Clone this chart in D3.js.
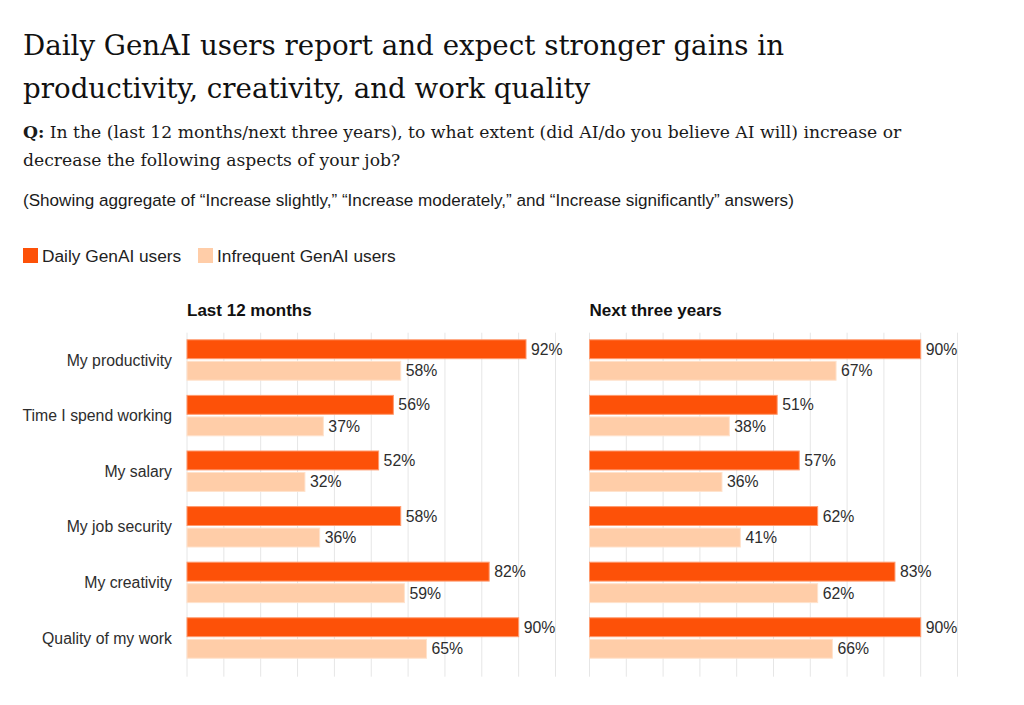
<!DOCTYPE html>
<html><head><meta charset="utf-8">
<script src="https://cdn.jsdelivr.net/npm/d3@7"></script>
<style>
body{margin:0;background:#fff;}
svg{display:block;}
</style></head>
<body>
<svg id="chart" width="1024" height="705"></svg>
<script>
const categories = ["My productivity","Time I spend working","My salary","My job security","My creativity","Quality of my work"];
const seriesNames = ["Daily GenAI users","Infrequent GenAI users"];
const panels = ["Last 12 months","Next three years"];
const last12Daily = [92,56,52,58,82,90];
const last12Infrequent = [58,37,32,36,59,65];
const next3Daily = [90,51,57,62,83,90];
const next3Infrequent = [67,38,36,41,62,66];
const xTicks = [0,10,20,30,40,50,60,70,80,90,100];
const colors = ["#FD5108","#FFCDA8"];
const strokes = ["#FF9A6E","#FFE2CC"];

const svg = d3.select("#chart");
const serif = "'DejaVu Serif', Georgia, serif";
const sans = "'Liberation Sans', Arial, Helvetica, sans-serif";

// Title
const title = svg.append("text").attr("font-family", serif).attr("font-size", 27.7).attr("fill", "#111");
title.append("tspan").attr("x", 23).attr("y", 55).text("Daily GenAI users report and expect stronger gains in");
title.append("tspan").attr("x", 23).attr("y", 98).text("productivity, creativity, and work quality");

const q = svg.append("text").attr("font-family", serif).attr("font-size", 17.2).attr("fill", "#1a1a1a");
const q1 = q.append("tspan").attr("x", 23).attr("y", 138);
q1.append("tspan").attr("font-weight", "bold").text("Q:");
q1.append("tspan").text(" In the (last 12 months/next three years), to what extent (did AI/do you believe AI will) increase or");
q.append("tspan").attr("x", 23).attr("y", 166).text("decrease the following aspects of your job?");

svg.append("text").attr("x", 23).attr("y", 206).attr("font-family", sans).attr("font-size", 17.1).attr("fill", "#1a1a1a")
  .text("(Showing aggregate of \u201cIncrease slightly,\u201d \u201cIncrease moderately,\u201d and \u201cIncrease significantly\u201d answers)");

// Legend
const legendX = [23, 198];
seriesNames.forEach((s, i) => {
  const g = svg.append("g").attr("transform", `translate(${legendX[i]},248)`);
  g.append("rect").attr("width", 15).attr("height", 15).attr("fill", colors[i]);
  g.append("text").attr("x", 19).attr("y", 14).attr("font-family", sans).attr("font-size", 17.3).attr("fill", "#222").text(s);
});

// Scales
const y = d3.scaleBand().domain(categories).range([332.2, 665.8]).paddingInner(0.255).paddingOuter(0.1275);
const yInner = d3.scaleBand().domain([0, 1]).range([0, y.bandwidth()]).paddingInner(0.075);

const panelData = [
  {x0: 187, x1: 555.5, series: [last12Daily, last12Infrequent]},
  {x0: 589.5, x1: 957.5, series: [next3Daily, next3Infrequent]}
];

panelData.forEach((p, pi) => {
  const x = d3.scaleLinear().domain([0, 100]).range([p.x0, p.x1]);
  const g = svg.append("g");
  g.append("text").attr("x", p.x0).attr("y", 316).attr("font-family", sans).attr("font-weight", "bold")
    .attr("font-size", 17).attr("fill", "#111").text(panels[pi]);
  g.selectAll("line.grid").data(xTicks).join("line").attr("class", "grid")
    .attr("x1", d => x(d)).attr("x2", d => x(d)).attr("y1", 332.7).attr("y2", 676.7)
    .attr("stroke", "#e6e6e6").attr("stroke-width", 1);
  p.series.forEach((vals, si) => {
    g.selectAll(null).data(vals).join("rect")
      .attr("x", x(0))
      .attr("y", (d, i) => y(categories[i]) + yInner(si) + 0.5)
      .attr("width", d => x(d) - x(0))
      .attr("height", yInner.bandwidth() - 1)
      .attr("fill", colors[si]).attr("stroke", strokes[si]).attr("stroke-width", 1);
    g.selectAll(null).data(vals).join("text")
      .attr("x", d => x(d) + 5)
      .attr("y", (d, i) => y(categories[i]) + yInner(si) + yInner.bandwidth() / 2 + 5.5)
      .attr("font-family", sans).attr("font-size", 15.8).attr("fill", "#2d2d2d")
      .text(d => d + "%");
  });
});

svg.append("g").selectAll("text").data(categories).join("text")
  .attr("x", 172).attr("y", d => y(d) + y.bandwidth() / 2 + 5.5)
  .attr("text-anchor", "end").attr("font-family", sans).attr("font-size", 15.8).attr("fill", "#2d2d2d")
  .text(d => d);
</script>
</body></html>
